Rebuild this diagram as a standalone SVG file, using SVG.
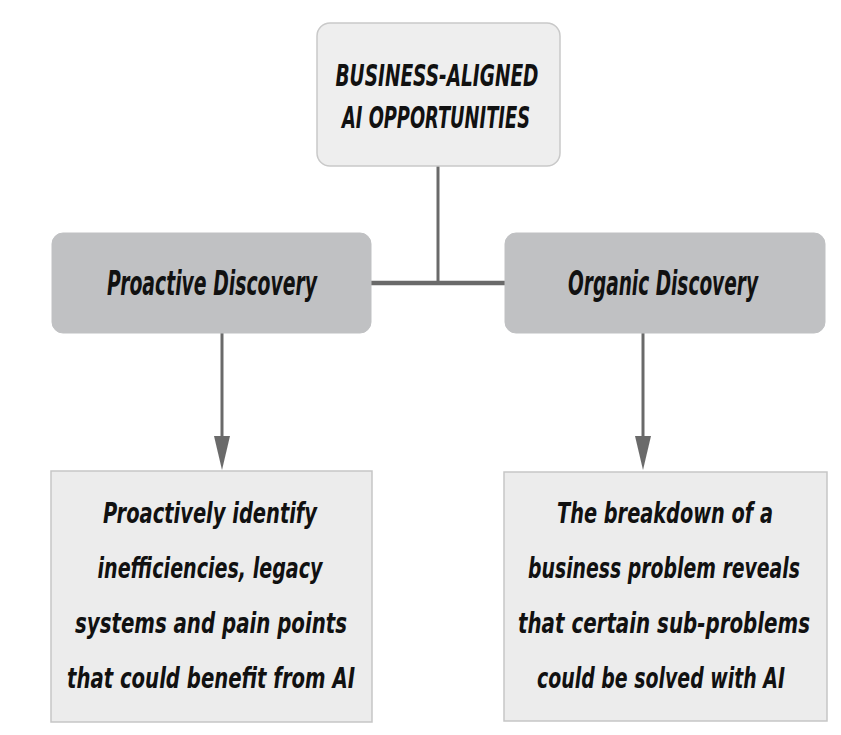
<svg xmlns="http://www.w3.org/2000/svg" width="841" height="735" viewBox="0 0 841 735">
<defs>
<style>
.t{font-family:"DejaVu Sans Condensed","DejaVu Sans","Liberation Sans",sans-serif;font-weight:bold;font-style:italic;fill:#111;text-anchor:middle}
.top{fill:#eeeeee;stroke:#c9c9c9;stroke-width:1.5}
.mid{fill:#c0c1c3;stroke:#c0c1c3;stroke-width:1}
.bot{fill:#ececec;stroke:#c6c6c6;stroke-width:1.5}
.c{stroke:#6a6a6a;fill:none}
</style>
<marker id="ah" viewBox="0 0 16 34" refX="8" refY="34" markerWidth="16" markerHeight="34" markerUnits="userSpaceOnUse" orient="auto-start-reverse">
<path d="M0,0 L16,0 L8,34 Z" fill="#6a6a6a"/>
</marker>
</defs>
<rect width="841" height="735" fill="#ffffff"/>
<g id="connectors">
<line class="c" x1="438" y1="166" x2="438" y2="283" stroke-width="3"/>
<line class="c" x1="371" y1="283" x2="505" y2="283" stroke-width="4.5"/>
<line class="c" x1="222" y1="333" x2="222" y2="440" stroke-width="3"/>
<path d="M214,436 L230,436 L222,470 Z" fill="#6a6a6a"/>
<line class="c" x1="643" y1="333" x2="643" y2="440" stroke-width="3"/>
<path d="M635,436 L651,436 L643,470 Z" fill="#6a6a6a"/>
</g>
<g id="node-top">
<rect class="top" x="317" y="23" width="243" height="143" rx="13"/>
<text class="t" x="437" y="86" font-size="30" textLength="203" lengthAdjust="spacingAndGlyphs">BUSINESS-ALIGNED</text>
<text class="t" x="436" y="128" font-size="30" textLength="188" lengthAdjust="spacingAndGlyphs">AI OPPORTUNITIES</text>
</g>
<g id="node-proactive">
<rect class="mid" x="52" y="233" width="319" height="100" rx="11"/>
<text class="t" x="212" y="295" font-size="34" textLength="210" lengthAdjust="spacingAndGlyphs">Proactive Discovery</text>
</g>
<g id="node-organic">
<rect class="mid" x="505" y="233" width="320" height="100" rx="11"/>
<text class="t" x="663" y="295" font-size="34" textLength="190" lengthAdjust="spacingAndGlyphs">Organic Discovery</text>
</g>
<g id="node-proactive-desc">
<rect class="bot" x="51" y="471" width="321" height="251"/>
<text class="t" font-size="28"><tspan x="210" y="523" textLength="214" lengthAdjust="spacingAndGlyphs">Proactively identify</tspan><tspan x="210" y="578" textLength="225" lengthAdjust="spacingAndGlyphs">inefficiencies, legacy</tspan><tspan x="211" y="633" textLength="272" lengthAdjust="spacingAndGlyphs">systems and pain points</tspan><tspan x="211" y="688" textLength="288" lengthAdjust="spacingAndGlyphs">that could benefit from AI</tspan></text>
</g>
<g id="node-organic-desc">
<rect class="bot" x="504" y="472" width="323" height="249"/>
<text class="t" font-size="28"><tspan x="665" y="523" textLength="216" lengthAdjust="spacingAndGlyphs">The breakdown of a</tspan><tspan x="664" y="578" textLength="272" lengthAdjust="spacingAndGlyphs">business problem reveals</tspan><tspan x="664" y="633" textLength="292" lengthAdjust="spacingAndGlyphs">that certain sub-problems</tspan><tspan x="661" y="688" textLength="248" lengthAdjust="spacingAndGlyphs">could be solved with AI</tspan></text>
</g>
</svg>
